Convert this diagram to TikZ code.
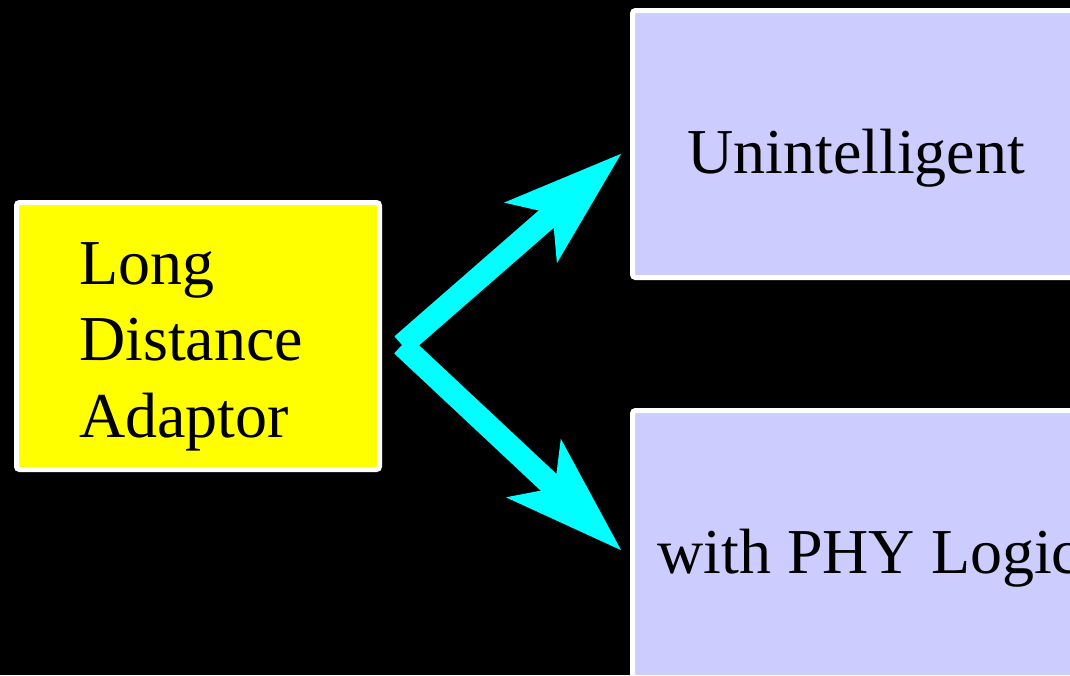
\documentclass[tikz,border=0pt]{standalone}
\usepackage{fontspec}
\setmainfont{Liberation Serif}
\usetikzlibrary{arrows.meta}
\definecolor{boxblue}{RGB}{204,204,255}
\definecolor{boxyellow}{RGB}{255,255,0}
\definecolor{arrowcyan}{RGB}{0,255,255}

\begin{document}
\begin{tikzpicture}[x=1pt,y=-1pt,
  box/.style={shape=rectangle,draw=white,line width=5pt,rounded corners=3pt,inner sep=0pt},
  txt/.style={inner sep=0pt,font=\fontsize{64}{76.5}\selectfont},
  fat/.style={-{Stealth[length=118pt,width=76pt,inset=26pt]},line width=23pt,arrowcyan}]
\clip (0,0) rectangle (1070,675);
\fill[black] (0,0) rectangle (1070,675);

\node[box,fill=boxyellow,minimum width=363pt,minimum height=267pt](LDA) at (198,336){};
\node[txt,text width=240pt,align=left,anchor=base west](LDAt) at (79,284){Long\\Distance\\Adaptor};

\node[box,fill=boxblue,minimum width=600pt,minimum height=267pt](UN) at (932.5,144){};
\node[txt,anchor=base west](UNt) at (687,173){Unintelligent};

\node[box,fill=boxblue,minimum width=600pt,minimum height=267pt](PHY) at (932.5,544){};
\node[txt,anchor=base west](PHYt) at (657,573){with PHY Logic};

\coordinate (F) at (402,345);
\coordinate (TU) at (622,153);
\coordinate (TP) at (622,551);
\draw[fat] (F) -- (TU);
\draw[fat] (F) -- (TP);
\end{tikzpicture}
\end{document}
